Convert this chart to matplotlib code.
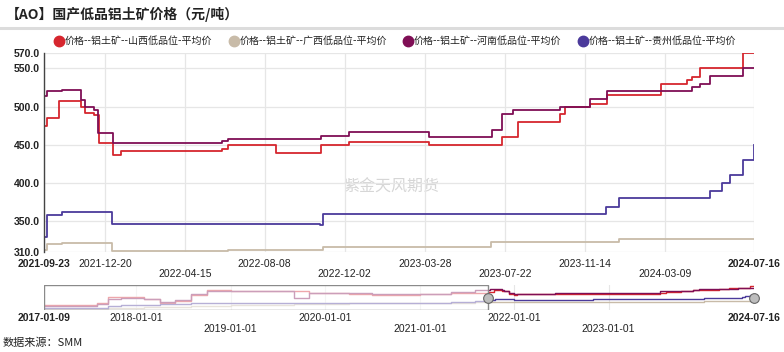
import matplotlib
matplotlib.use("Agg")
import matplotlib.pyplot as plt
import matplotlib.dates as mdates
from matplotlib.lines import Line2D
from matplotlib.patches import Rectangle
import pandas as pd

plt.rcParams['font.family'] = ['Liberation Sans', 'Noto Sans CJK SC', 'DejaVu Sans']

# ---------------- data (step change dates / values) ----------------
shanxi_dates = ['2021-09-23', '2021-09-27', '2021-10-15', '2021-11-16', '2021-11-21', '2021-12-05',
                '2021-12-12', '2022-01-01', '2022-01-13', '2022-06-07', '2022-06-16', '2022-08-24',
                '2022-10-28', '2022-12-08', '2023-04-03', '2023-07-17', '2023-08-09', '2023-10-09',
                '2023-10-16', '2023-11-22', '2023-12-17', '2024-03-04', '2024-04-10', '2024-04-17',
                '2024-04-29', '2024-06-30', '2024-07-16']
shanxi_vals = [475, 485, 507, 500, 492, 489, 452, 437, 442, 445, 450, 440, 450, 454, 450, 460, 480,
               490, 500, 504, 515, 530, 535, 539, 550, 570, 570]

guangxi_dates = ['2021-09-23', '2021-09-28', '2021-10-19', '2021-12-31', '2022-06-16', '2022-10-31',
                 '2023-07-02', '2024-01-03', '2024-07-16']
guangxi_vals = [313, 320, 322, 311, 313, 317, 323, 327, 327]

henan_dates = ['2021-09-23', '2021-09-28', '2021-10-19', '2021-11-16', '2021-11-21', '2021-12-04',
               '2021-12-10', '2022-01-01', '2022-06-07', '2022-06-16', '2022-10-28', '2022-12-08',
               '2023-04-03', '2023-07-03', '2023-07-18', '2023-08-02', '2023-10-09', '2023-11-22',
               '2023-12-17', '2024-04-17', '2024-04-29', '2024-05-14', '2024-06-30', '2024-07-16']
henan_vals = [514, 520, 522, 509, 500, 496, 465, 453, 455, 457, 462, 467, 460, 470, 490, 495, 500,
              510, 520, 525, 530, 540, 550, 550]

guizhou_dates = ['2021-09-23', '2021-09-28', '2021-10-19', '2021-12-31', '2022-10-27', '2022-10-31',
                 '2023-12-15', '2024-01-03', '2024-05-14', '2024-05-30', '2024-06-11', '2024-06-30',
                 '2024-07-10', '2024-07-16']
guizhou_vals = [329, 358, 362, 347, 345, 360, 369, 380, 390, 400, 410, 430, 430, 450]

# navigator history (2017-01 .. 2021-09)
hist_dates = ['2017-01-09', '2017-04-01', '2017-08-01', '2017-09-15', '2017-11-01', '2018-02-01',
              '2018-04-01', '2018-06-01', '2018-08-01', '2018-10-01', '2019-01-01', '2019-06-01',
              '2019-09-01', '2019-11-01', '2020-01-01', '2020-04-01', '2020-07-01', '2021-01-01',
              '2021-05-01', '2021-08-01']
shanxi_hist = [270, 265, 300, 400, 395, 360, 310, 330, 430, 505, 500, 495, 490, 470, 470, 445, 430,
               440, 455, 470]
henan_hist = [255, 255, 280, 370, 385, 370, 320, 345, 450, 500, 500, 495, 380, 455, 455, 455, 445,
              450, 480, 505]
guizhou_hist = [215, 220, 230, 250, 270, 275, 280, 285, 295, 300, 305, 310, 310, 310, 305, 300, 300,
                310, 325, 330]
guangxi_hist = [200, 205, 210, 220, 230, 235, 240, 245, 250, 260, 265, 270, 280, 285, 290, 295, 300,
                305, 310, 313]

series_names = ['价格--铝土矿--山西低品位-平均价', '价格--铝土矿--广西低品位-平均价',
                '价格--铝土矿--河南低品位-平均价', '价格--铝土矿--贵州低品位-平均价']
colors = ['#d6262e', '#c8bba8', '#7f0e55', '#4b3a9b']

x_ticks = ['2021-09-23', '2021-12-20', '2022-04-15', '2022-08-08', '2022-12-02', '2023-03-28',
           '2023-07-22', '2023-11-14', '2024-03-09', '2024-07-16']
y_ticks = [310, 350, 400, 450, 500, 550, 570]
nav_ticks = ['2017-01-09', '2018-01-01', '2019-01-01', '2020-01-01', '2021-01-01', '2022-01-01',
             '2023-01-01', '2024-07-16']

title = '【AO】国产低品铝土矿价格（元/吨）'
source = '数据来源：SMM'
watermark = '紫金天风期货'

# ---------------- figure ----------------
W, H = 784, 352
fig = plt.figure(figsize=(W / 100, H / 100), dpi=100)
fig.patch.set_facecolor('white')

def fx(px):
    return px / W

def fy(py):
    return 1 - py / H

fig.text(fx(6), fy(14), title, fontsize=10, fontweight='bold', color='#222222',
         va='center', ha='left', family=['Noto Sans CJK SC', 'DejaVu Sans'])
fig.add_artist(Line2D([0, 1], [fy(27.5), fy(27.5)], color='#dcdcdc', lw=2.2))

# main axes
ax = fig.add_axes([fx(44), fy(252), fx(710), (252 - 53) / H])
main = [(shanxi_dates, shanxi_vals), (guangxi_dates, guangxi_vals),
        (henan_dates, henan_vals), (guizhou_dates, guizhou_vals)]
for (d, v), c, n in zip(main, colors, series_names):
    ax.plot(pd.to_datetime(d), v, drawstyle='steps-post', color=c, lw=1.3, label=n)

ax.set_xlim(pd.Timestamp(x_ticks[0]), pd.Timestamp(x_ticks[-1]))
ax.set_ylim(310, 570)
ax.set_yticks(y_ticks)
ax.set_yticklabels([f'{v:.1f}' for v in y_ticks], fontsize=7.5, fontweight='bold', color='#222222')
ax.set_xticks(pd.to_datetime(x_ticks))
xl = []
for i, t in enumerate(x_ticks):
    if i % 2 == 0 and 0 < i < len(x_ticks) - 1:
        xl.append('\n' + t)
    else:
        xl.append(t)
ax.set_xticklabels(xl, fontsize=7.5, color='#222222', linespacing=1.05)
labs = ax.get_xticklabels()
labs[0].set_fontweight('bold')
labs[-1].set_fontweight('bold')
ax.tick_params(axis='x', length=0, pad=5)
ax.tick_params(axis='y', length=0, pad=3)
ax.grid(True, color='#e6e6e6', lw=0.9)
ax.set_axisbelow(True)
for s in ['top', 'right', 'bottom']:
    ax.spines[s].set_visible(False)
ax.spines['left'].set_color('#444444')
ax.spines['left'].set_linewidth(1.0)
ax.text(0.489, 0.327, watermark, transform=ax.transAxes, fontsize=11.5, color='#d6d6d6',
        ha='center', va='center', family=['Noto Sans CJK SC'], zorder=0)

# legend
handles = [Line2D([], [], marker='o', ls='none', markersize=7.5, color=c) for c in colors]
fig.legend(handles, series_names, loc='center', bbox_to_anchor=(fx(395), fy(41)), ncol=4,
           frameon=False, handletextpad=0.1, columnspacing=1.6,
           prop={'family': ['Noto Sans CJK SC', 'DejaVu Sans'], 'size': 7.2},
           borderaxespad=0, handlelength=1.0, labelcolor='#222222')

# navigator
nav = fig.add_axes([fx(44), fy(310), fx(710), 25 / H])
hists = [shanxi_hist, guangxi_hist, henan_hist, guizhou_hist]
for (d, v), h, c in zip(main, hists, colors):
    dd = list(pd.to_datetime(hist_dates)) + list(pd.to_datetime(d))
    vv = list(h) + list(v)
    nav.plot(dd, vv, color=c, lw=1.0, drawstyle='steps-post')
nav.set_xlim(pd.Timestamp(nav_ticks[0]), pd.Timestamp(nav_ticks[-1]))
nav.set_ylim(190, 590)
nav.set_yticks([])
nav.set_xticks(pd.to_datetime(nav_ticks))
nl = []
for i, t in enumerate(nav_ticks):
    if i == 0 or i == len(nav_ticks) - 1 or i % 2 == 1:
        nl.append(t)
    else:
        nl.append('\n' + t)
nav.set_xticklabels(nl, fontsize=7.5, color='#222222', linespacing=1.15)
nl_objs = nav.get_xticklabels()
nl_objs[0].set_fontweight('bold')
nl_objs[-1].set_fontweight('bold')
nav.tick_params(axis='x', length=0, pad=2)
nav.grid(True, axis='x', color='#e6e6e6', lw=0.8)
nav.set_axisbelow(True)
for s in nav.spines.values():
    s.set_visible(False)
start = mdates.date2num(pd.Timestamp(nav_ticks[0]))
sel = mdates.date2num(pd.Timestamp(x_ticks[0]))
nav.add_patch(Rectangle((start, 190), sel - start, 400, facecolor='white', alpha=0.6,
                        edgecolor='none', zorder=3))
nav.add_patch(Rectangle((start, 190), sel - start, 400, facecolor='none',
                        edgecolor='#8a8a8a', lw=1.0, zorder=4))
for xd in [x_ticks[0], x_ticks[-1]]:
    hx = mdates.date2num(pd.Timestamp(xd))
    nav.plot([hx], [380], marker='o', markersize=7, color='#bdbdbd', mec='#666666', mew=0.8,
             zorder=5, clip_on=False)

fig.text(fx(3), fy(343), source, fontsize=8, color='#222222', va='center', ha='left',
         family=['Noto Sans CJK SC', 'DejaVu Sans'])

fig.savefig('out.png', dpi=100, facecolor='white')
